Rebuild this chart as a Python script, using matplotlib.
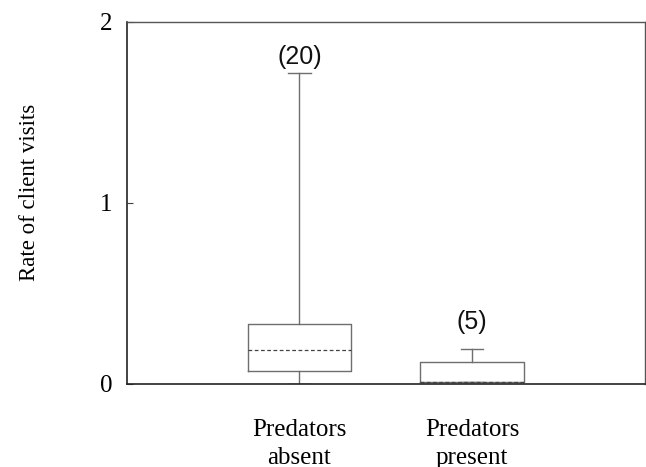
import matplotlib
matplotlib.use("Agg")
import matplotlib.pyplot as plt

categories = ["Predators\nabsent", "Predators\npresent"]
n_labels = ["(20)", "(5)"]
whislo = [0.0, 0.01]
q1 = [0.07, 0.01]
med = [0.185, 0.01]
q3 = [0.33, 0.12]
whishi = [1.72, 0.19]
label_offsets = [0.087, 0.152]

fig = plt.figure(figsize=(6.46, 4.67), dpi=100)
ax = fig.add_axes([0.196, 0.178, 0.802, 0.775])

stats = []
for i in range(len(categories)):
    stats.append(dict(whislo=whislo[i], q1=q1[i], med=med[i], q3=q3[i],
                      whishi=whishi[i], fliers=[], label=categories[i]))

gray = "#6e6e6e"
ax.bxp(stats, positions=[1, 2], widths=0.6, showfliers=False,
       boxprops=dict(color=gray, linewidth=1.0),
       whiskerprops=dict(color=gray, linewidth=1.0),
       capprops=dict(color=gray, linewidth=1.0),
       medianprops=dict(color="#444444", linewidth=0.9, linestyle=(0, (3, 2))),
       capwidths=0.13)

for i, lab in enumerate(n_labels):
    ax.text(i + 1, whishi[i] + label_offsets[i], lab, ha="center", va="center",
            fontsize=18, family="Liberation Sans", color="#111111")

ax.set_xlim(0, 3)
ax.set_ylim(0, 2)
ax.set_yticks([0, 1, 2])
ax.set_yticklabels(["0", "1", "2"], family="Liberation Serif", fontsize=18)
ax.set_xticks([1, 2])
ax.set_xticklabels(categories, family="Liberation Serif", fontsize=18, linespacing=1.35)
ax.tick_params(axis="x", length=0, pad=25)
ax.tick_params(axis="y", direction="in", length=4, pad=10, color="#444444")
ax.set_ylabel("Rate of client visits", family="Liberation Serif", fontsize=16.5)
ax.yaxis.set_label_coords(-0.168, 0.528)

for side in ["left", "bottom"]:
    ax.spines[side].set_color("#222222")
    ax.spines[side].set_linewidth(1.2)
for side in ["top", "right"]:
    ax.spines[side].set_color("#555555")
    ax.spines[side].set_linewidth(1.0)

fig.savefig("out.png", dpi=100)
